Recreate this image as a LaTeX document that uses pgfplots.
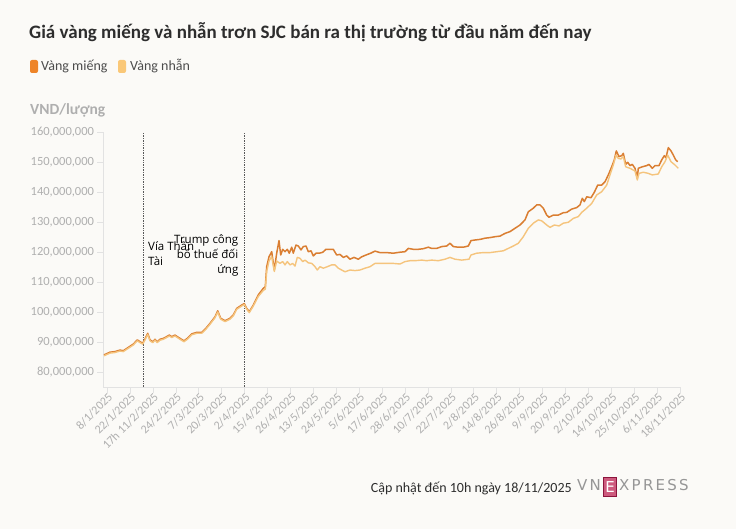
\documentclass[border=0pt]{standalone}
\usepackage{pgfplots}
\pgfplotsset{compat=1.18}
\usepackage{fontspec}
\setmainfont{Carlito}
\newfontfamily\annfont{Open Sans}
\newfontfamily\logofont[LetterSpace=15]{DejaVu Sans}
\newfontfamily\logoE{DejaVu Sans}
\definecolor{bg}{RGB}{251,250,247}
\definecolor{mieng}{RGB}{218,126,50}
\definecolor{nhan}{RGB}{245,196,125}
\definecolor{swmieng}{RGB}{238,132,40}
\definecolor{swnhan}{RGB}{250,200,120}
\definecolor{tickgrey}{RGB}{175,175,175}
\definecolor{linegrey}{RGB}{226,226,226}
\definecolor{titlec}{RGB}{45,45,45}
\definecolor{logogrey}{RGB}{150,150,150}
\definecolor{logopink}{RGB}{205,90,125}
\definecolor{logodark}{RGB}{140,20,60}
\begin{document}
\begin{tikzpicture}[x=1pt,y=1pt]
\fill[bg] (0,0) rectangle (736,529);
% title and legend
\node[anchor=base west, inner sep=0, font=\bfseries\fontsize{19}{22}\selectfont, text=titlec] at (29,490) {Giá vàng miếng và nhẫn trơn SJC bán ra thị trường từ đầu năm đến nay};
\fill[swmieng, rounded corners=2pt] (30,456) rectangle (38,469);
\node[anchor=base west, inner sep=0, font=\fontsize{14}{16}\selectfont, text=titlec!85] at (41,458) {Vàng miếng};
\fill[swnhan, rounded corners=2pt] (118,456) rectangle (126,469);
\node[anchor=base west, inner sep=0, font=\fontsize{14}{16}\selectfont, text=titlec!85] at (130,458) {Vàng nhẫn};
\node[anchor=base west, inner sep=0, font=\bfseries\fontsize{15.5}{17}\selectfont, text=tickgrey] at (30,414) {VND/lượng};
% footer
\node[anchor=base east, inner sep=0, font=\fontsize{14}{16}\selectfont, text=titlec] at (572,36) {Cập nhật đến 10h ngày 18/11/2025};
\node[anchor=base west, inner sep=0, font=\logofont\fontsize{15}{16}\selectfont, text=logogrey] at (577,38) {VN};
\draw[logodark, fill=logopink, line width=1pt] (603.5,32) rectangle (616.5,51);
\node[anchor=base, inner sep=0, font=\logoE\fontsize{15}{16}\selectfont, text=white] at (610,36) {E};
\node[anchor=base west, inner sep=0, font=\logofont\fontsize{15}{16}\selectfont, text=logogrey] at (619,38) {XPRESS};
\begin{axis}[
  at={(103.5pt,142pt)}, anchor=south west,
  scale only axis, width=576.5pt, height=255pt,
  xmin=103.5, xmax=680, ymin=75, ymax=160,
  axis x line*=bottom, axis y line*=left,
  axis line style={draw=linegrey, line width=0.7pt, -},
  xtick={107,129.9,152.8,175.8,198.7,221.6,244.5,267.4,290.4,313.3,336.2,359.1,382.0,405.0,427.9,450.8,473.7,496.6,519.6,542.5,565.4,588.3,611.2,634.2,657.1,680.0},
  xticklabels={8/1/2025,22/1/2025,17h 11/2/2025,24/2/2025,7/3/2025,20/3/2025,2/4/2025,15/4/2025,26/4/2025,13/5/2025,24/5/2025,5/6/2025,17/6/2025,28/6/2025,10/7/2025,22/7/2025,2/8/2025,14/8/2025,26/8/2025,9/9/2025,20/9/2025,2/10/2025,14/10/2025,25/10/2025,6/11/2025,18/11/2025},
  minor x tick num=9,
  x tick label style={rotate=45, anchor=east, font=\fontsize{12}{13}\selectfont, text=tickgrey, inner sep=1pt, xshift=2pt, yshift=-4pt},
  ytick={80,90,100,110,120,130,140,150,160},
  yticklabels={{80,000,000},{90,000,000},{100,000,000},{110,000,000},{120,000,000},{130,000,000},{140,000,000},{150,000,000},{160,000,000}},
  y tick label style={font=\fontsize{12.5}{14}\selectfont, text=tickgrey},
  tick align=outside, major tick length=6pt, minor tick length=6pt,
  tick style={draw=linegrey, line width=0.5pt},
  clip=false,
]
\addplot[densely dotted, draw=black!65, line width=0.7pt] coordinates {(143,75) (143,160)};
\addplot[densely dotted, draw=black!65, line width=0.7pt] coordinates {(244,75) (244,160)};
% Vang mieng
\addplot[mieng, line width=1.5pt, line join=round] coordinates {
(104,85.7)(110,86.6)(115,86.8)(120,87.3)(123.3,87.1)(128.3,88.2)(133.3,89.3)(137.3,90.7)(140,90.1)(142.7,89.6)
(145,91.0)(147.7,92.9)(150,90.7)(152.7,90.1)(155,90.9)(157.3,90.1)(160,90.9)(163.3,91.2)(166.7,91.8)(169.3,92.3)
(171.7,91.8)(175,92.3)(180,91.2)(184,90.4)(187.3,91.2)(191.7,92.7)(196.7,93.2)(201.7,93.2)(206,94.6)(210,96.2)
(215,98.4)(217.7,100.4)(220.7,97.9)(225,97.1)(230,97.9)(233.3,99.0)(236.7,101.2)(241.7,102.3)(244.3,102.8)(246.7,101.2)
(249.3,100.1)(253.3,102.3)(258.3,105.7)(263.3,107.9)(265.3,108.4)(266.7,115.1)(269,118.4)(271.7,120.1)(274.3,114.0)(276.7,119.6)
(279,123.8)(280.7,119.0)(282.7,120.9)(285,120.1)(287.3,120.9)(289.3,119.6)(291.7,121.6)(293.3,119.6)(296,122.3)(298.3,122.0)
(301,120.7)(303.3,121.8)(306,122.0)(308.3,120.1)(311,120.4)(313.3,118.7)(316,119.6)(319.3,119.6)(322.7,119.9)(326,120.9)
(330,120.9)(333.3,120.9)(336.7,119.0)(340,119.2)(343.3,118.2)(346.7,118.7)(350,117.6)(354,118.2)(358.3,117.6)(361.7,118.4)
(366,119.0)(370.7,119.6)(375,120.3)(380,119.8)(386.7,119.8)(393.3,119.6)(399.3,119.9)(405,120.1)(408.3,121.2)(413.3,120.9)
(418.3,120.9)(423.3,121.1)(428.3,121.6)(431.7,121.2)(436.7,121.2)(441.7,121.8)(446.7,122.0)(450,122.9)(453.3,121.8)(458.3,121.6)
(463.3,121.6)(468.3,122.0)(471,123.8)(475,124.0)(480,124.2)(485,124.6)(490,124.8)(495,125.1)(500,125.3)(505,126.2)
(510,126.8)(515,127.9)(520,129.0)(525,130.7)(528.3,133.4)(533.3,134.6)(536.7,135.7)(540,135.7)(543.3,134.6)(546.7,132.3)
(549,131.6)(553.3,132.3)(558.3,132.3)(563.3,133.1)(566.7,133.2)(571.7,134.3)(576.7,134.8)(580,135.7)(582.3,137.9)(584.3,136.8)
(586.7,138.4)(591,138.1)(594.3,139.9)(597.7,142.3)(601.7,142.3)(605,143.4)(608.3,145.7)(611.7,148.4)(614.3,150.7)(616.3,153.7)
(619,151.8)(621.7,152.1)(623.3,152.9)(625.7,149.2)(627.7,149.9)(630,148.8)(632.3,149.2)(635,147.9)(637.3,144.6)(638.3,147.9)
(642.3,148.4)(646.7,148.8)(649,149.2)(652.3,147.9)(655,148.8)(659,148.8)(661.7,150.7)(664.3,152.1)(666,151.4)(668.3,154.8)
(671,153.7)(673.3,152.3)(675.7,150.7)(677.7,150.1)
};
% Vang nhan
\addplot[nhan, line width=1.4pt, line join=round] coordinates {
(104,85.4)(110,86.3)(115,86.5)(120,87.0)(123.3,86.8)(128.3,87.9)(133.3,89.0)(137.3,90.4)(140,89.8)(142.7,89.3)
(145,90.7)(147.7,92.5)(150,90.4)(152.7,89.8)(155,90.6)(157.3,89.8)(160,90.6)(163.3,90.9)(166.7,91.5)(169.3,92.0)
(171.7,91.5)(175,92.0)(180,90.9)(184,90.1)(187.3,90.9)(191.7,92.4)(196.7,92.9)(201.7,92.9)(206,94.3)(210,95.9)
(215,98.1)(217.7,100.0)(220.7,97.6)(225,96.8)(230,97.6)(233.3,98.7)(236.7,100.9)(241.7,102.0)(244.3,102.5)(246.7,100.9)
(249.3,99.8)(253.3,102.0)(258.3,105.2)(263.3,107.2)(265.3,107.6)(266.7,113.5)(269,117.0)(271.7,118.5)(274.3,113.5)(276.7,117.0)
(280,116.2)(282.7,116.8)(285,115.7)(287.3,116.8)(290,115.7)(292.7,116.2)(295,115.3)(297.3,118.2)(300,117.9)(302.7,116.8)
(305,117.3)(308.3,116.4)(311.7,116.2)(315,115.1)(317.3,114.0)(320,115.1)(323.3,114.6)(327.3,115.1)(331.7,115.7)(335,115.7)
(338.3,114.6)(341.7,114.0)(345,113.4)(350,114.0)(355,113.8)(360,114.0)(365,114.6)(370,115.1)(375,116.2)(383.3,116.2)
(393.3,116.2)(400,116.0)(405,116.8)(410,117.1)(415,117.1)(421.7,117.3)(426.7,117.1)(431.7,117.3)(438.3,117.1)(445,117.6)
(450,118.2)(455,117.6)(461.7,117.3)(469,117.6)(471,119.0)(476.7,119.6)(483.3,119.8)(490,119.8)(496.7,120.1)(503.3,120.4)
(508.3,121.2)(513.3,122.0)(518.3,122.9)(523.3,125.1)(528.3,127.9)(533.3,129.6)(538.3,130.7)(541.7,130.4)(546.7,129.0)(550,128.2)
(554.3,129.0)(559,128.7)(563.3,129.6)(568.3,129.9)(573.3,131.2)(578.3,131.8)(581.7,133.2)(586.7,134.6)(591.7,136.2)(596.7,139.0)
(601.7,140.1)(606.7,142.3)(610,145.7)(613.3,149.0)(616,152.3)(618.3,151.2)(621,151.0)(623.3,151.8)(625.7,148.4)(630,147.9)
(635,147.0)(637.3,144.0)(639,146.2)(643.3,146.6)(648.3,146.2)(652.3,145.7)(658.3,146.0)(661.7,148.4)(665,150.1)(667.7,152.3)
(671,150.1)(675,149.0)(678.3,147.9)
};
\node[anchor=north west, align=left, inner sep=0, font=\annfont\fontsize{11.5}{15}\selectfont] at (axis cs:148,123.8) {Vía Thần\\Tài};
\node[anchor=north east, align=right, inner sep=0, font=\annfont\fontsize{11.5}{15}\selectfont] at (axis cs:238.5,125.8) {Trump công\\bố thuế đối\\ứng};
\end{axis}
\end{tikzpicture}
\end{document}
